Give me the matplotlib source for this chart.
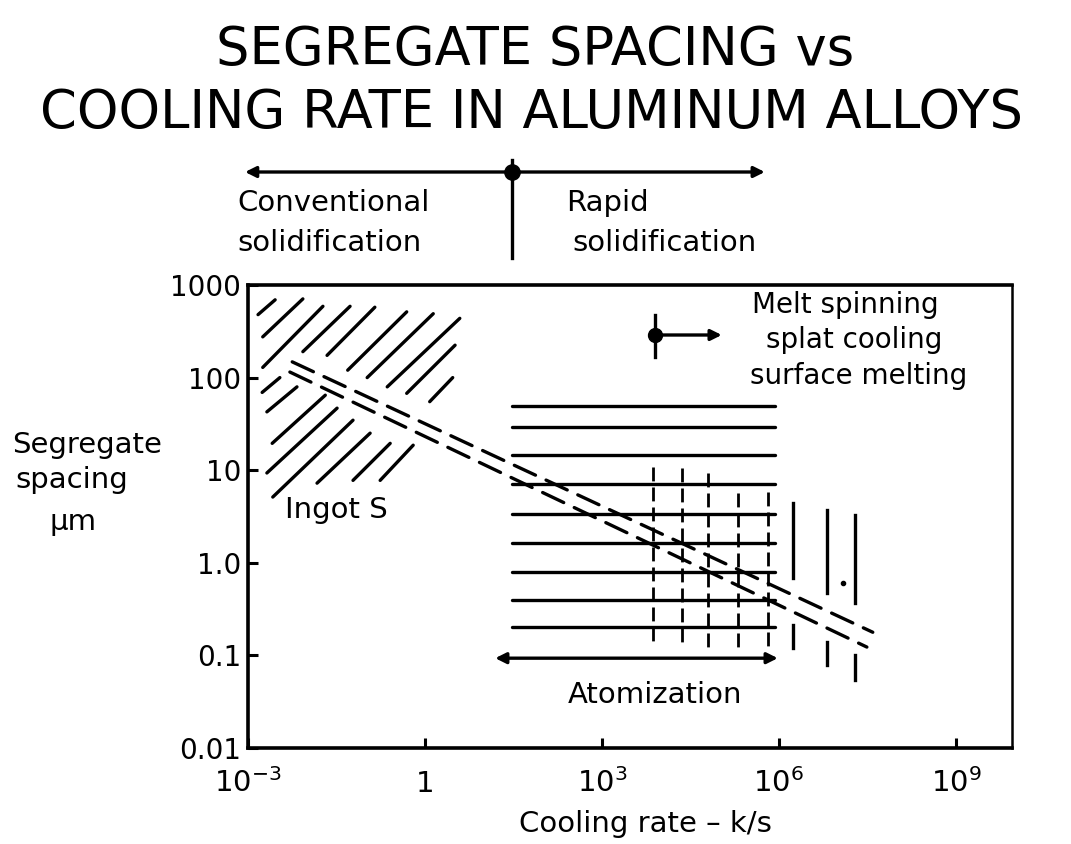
import numpy as np
import matplotlib
matplotlib.use('Agg')
import matplotlib.pyplot as plt

plt.rcParams['font.family'] = ['DejaVu Sans']
plt.rcParams['mathtext.fontset'] = 'dejavusans'

# ---------------- data (log10 units) ----------------
# Ingot hatching segments: log10 cooling rate (K/s), log10 spacing (um)
ingot_lx0 = [-2.83, -2.75, -2.75, -2.07, -1.66, -1.31, -0.98, -0.64, -0.31, 0.08,
             -2.76, -2.68, -2.59, -2.68, -2.58, -1.83, -1.22, -0.76]
ingot_ly0 = [2.68, 2.44, 2.11, 2.28, 2.24, 2.08, 2.00, 1.90, 1.83, 1.74,
             1.84, 1.63, 1.29, 0.97, 0.71, 0.86, 0.89, 0.89]
ingot_lx1 = [-2.54, -2.07, -1.73, -1.27, -0.85, -0.31, 0.14, 0.59, 0.51, 0.47,
             -2.46, -2.17, -1.69, -1.49, -1.22, -0.93, -0.59, -0.20]
ingot_ly1 = [2.84, 2.85, 2.77, 2.77, 2.76, 2.71, 2.69, 2.64, 2.35, 2.00,
             2.00, 1.90, 1.81, 1.67, 1.54, 1.40, 1.29, 1.27]

# Trend band (two dashed bounds)
band_upper_lx = [-2.25, 7.59]
band_upper_ly = [2.17, -0.75]
band_lower_lx = [-2.29, 7.49]
band_lower_ly = [2.06, -0.91]

# Atomization horizontal lines
atom_lx = [1.47, 5.93]
atom_ly = [1.69, 1.47, 1.16, 0.85, 0.53, 0.21, -0.10, -0.40, -0.69]
atom_arrow_lx = [1.19, 5.98]
atom_arrow_ly = -1.03

# Atomization dashed verticals
atom_v_lx = [3.86, 4.36, 4.80, 5.31, 5.81]
atom_v_ly_top = [1.03, 1.02, 0.97, 0.75, 0.76]
atom_v_ly_bot = -0.91

# Melt spinning verticals (segments above and below the band)
melt_lx = [6.24, 6.81, 7.29]
melt_upper_top = [0.65, 0.57, 0.52]
melt_upper_bot = [-0.16, -0.33, -0.43]
melt_lower_top = [-0.67, -0.86, -1.00]
melt_lower_bot = [-0.92, -1.10, -1.27]
melt_dot_lx = 7.08
melt_dot_ly = -0.22

# Melt spinning key marker
key_lx = 3.90
key_ly = 2.46
key_ly_range = [2.22, 2.68]
key_arrow_lx = 5.03

# Conventional / rapid divider
divider_lx = 1.47
regime_arrow_lx = [-3.05, 5.76]

x_ticks = [1e-3, 1, 1e3, 1e6, 1e9]
x_ticklabels = ['$10^{-3}$', '1', '$10^{3}$', '$10^{6}$', '$10^{9}$']
y_ticks = [0.01, 0.1, 1, 10, 100, 1000]
y_ticklabels = ['0.01', '0.1', '1.0', '10', '100', '1000']

# ---------------- figure ----------------
W, H = 1071, 844
fig = plt.figure(figsize=(W / 100, H / 100), dpi=100)
ax = fig.add_axes([248 / W, 1 - 748 / H, (1012 - 248) / W, (748 - 285) / H])
ax.set_xscale('log')
ax.set_yscale('log')
ax.set_xlim(1e-3, 10 ** 9.95)
ax.set_ylim(0.01, 1000)

K = 'black'
lw = 2.4

# Ingot hatching
for a, b, c, d in zip(ingot_lx0, ingot_ly0, ingot_lx1, ingot_ly1):
    ax.plot([10 ** a, 10 ** c], [10 ** b, 10 ** d], color=K, lw=lw,
            solid_capstyle='round')

# Trend band
for lx, ly in ((band_upper_lx, band_upper_ly), (band_lower_lx, band_lower_ly)):
    ax.plot(10 ** np.array(lx), 10 ** np.array(ly), color=K, lw=lw,
            dashes=(7, 3.5), dash_capstyle='round')

# Atomization lines
for ly in atom_ly:
    ax.plot(10 ** np.array(atom_lx), [10 ** ly] * 2, color=K, lw=lw,
            solid_capstyle='round')
for lx, top in zip(atom_v_lx, atom_v_ly_top):
    ax.plot([10 ** lx] * 2, [10 ** top, 10 ** atom_v_ly_bot], color=K, lw=2.0,
            dashes=(5, 2.2))
ax.annotate('', xy=(10 ** atom_arrow_lx[0], 10 ** atom_arrow_ly),
            xytext=(10 ** atom_arrow_lx[1], 10 ** atom_arrow_ly),
            arrowprops=dict(arrowstyle='<|-|>', color=K, lw=lw,
                            mutation_scale=16, shrinkA=0, shrinkB=0))

# Melt spinning verticals
for lx, a, b, c, d in zip(melt_lx, melt_upper_top, melt_upper_bot,
                          melt_lower_top, melt_lower_bot):
    ax.plot([10 ** lx] * 2, [10 ** a, 10 ** b], color=K, lw=lw)
    ax.plot([10 ** lx] * 2, [10 ** c, 10 ** d], color=K, lw=lw)
ax.plot([10 ** melt_dot_lx], [10 ** melt_dot_ly], 'o', color=K, ms=3)

# Melt spinning key
ax.plot([10 ** key_lx] * 2, [10 ** key_ly_range[0], 10 ** key_ly_range[1]],
        color=K, lw=lw)
ax.plot([10 ** key_lx], [10 ** key_ly], 'o', color=K, ms=10)
ax.annotate('', xy=(10 ** key_arrow_lx, 10 ** key_ly),
            xytext=(10 ** key_lx, 10 ** key_ly),
            arrowprops=dict(arrowstyle='-|>', color=K, lw=lw,
                            mutation_scale=16, shrinkA=0, shrinkB=0))

# In-plot labels
ax.text(10 ** (-3 + (285 - 248) / 59), 10 ** (3 - (510 - 285) / 92.6), 'Ingot S',
        fontsize=21, va='center', ha='left')
ax.text(10 ** (-3 + (655 - 248) / 59), 10 ** (3 - (695 - 285) / 92.6),
        'Atomization', fontsize=21, va='center', ha='center')

# Axes styling
for side in ('left', 'bottom', 'top'):
    ax.spines[side].set_linewidth(2.6)
ax.spines['right'].set_linewidth(1.8)
ax.set_xticks(x_ticks)
ax.set_xticklabels(x_ticklabels)
ax.set_yticks(y_ticks)
ax.set_yticklabels(y_ticklabels)
ax.minorticks_off()
ax.tick_params(axis='both', which='major', direction='in', length=7, width=2.2,
               labelsize=21)
ax.tick_params(axis='x', pad=32)
ax.tick_params(axis='y', pad=5, labelsize=20)
for t in ax.get_xticklabels():
    t.set_verticalalignment('baseline')

# Conventional / rapid diagram above the axes
tr = ax.get_xaxis_transform()
ya = (748 - 172) / 463
ax.annotate('', xy=(10 ** regime_arrow_lx[0], ya), xycoords=tr,
            xytext=(10 ** divider_lx, ya), textcoords=tr,
            arrowprops=dict(arrowstyle='-|>', color=K, lw=lw,
                            mutation_scale=16, shrinkA=0, shrinkB=0))
ax.annotate('', xy=(10 ** regime_arrow_lx[1], ya), xycoords=tr,
            xytext=(10 ** divider_lx, ya), textcoords=tr,
            arrowprops=dict(arrowstyle='-|>', color=K, lw=lw,
                            mutation_scale=16, shrinkA=0, shrinkB=0))
ax.plot([10 ** divider_lx] * 2, [(748 - 160) / 463, (748 - 258) / 463],
        color=K, lw=lw, transform=tr, clip_on=False)
ax.plot([10 ** divider_lx], [ya], 'o', color=K, ms=11, transform=tr,
        clip_on=False)

def ftext(px, py, s, **kw):
    fig.text(px / W, 1 - py / H, s, **kw)

ftext(237, 203, 'Conventional', fontsize=21, va='center', ha='left')
ftext(237, 243, 'solidification', fontsize=21, va='center', ha='left')
ftext(566, 203, 'Rapid', fontsize=21, va='center', ha='left')
ftext(572, 243, 'solidification', fontsize=21, va='center', ha='left')

ftext(752, 305, 'Melt spinning', fontsize=20, va='center', ha='left')
ftext(766, 340, 'splat cooling', fontsize=20, va='center', ha='left')
ftext(750, 376, 'surface melting', fontsize=20, va='center', ha='left')

# Title
ftext(535, 65, 'SEGREGATE SPACING vs', fontsize=38, va='baseline', ha='center')
ftext(532, 128, 'COOLING RATE IN ALUMINUM ALLOYS', fontsize=38, va='baseline',
      ha='center')

# Axis labels
ftext(12, 445, 'Segregate', fontsize=21, va='center', ha='left')
ftext(15, 480, 'spacing', fontsize=21, va='center', ha='left')
ftext(50, 522, 'μm', fontsize=21, va='center', ha='left')
ftext(645, 832, 'Cooling rate – k/s', fontsize=21, va='baseline', ha='center')

fig.savefig('out.png', dpi=100)
